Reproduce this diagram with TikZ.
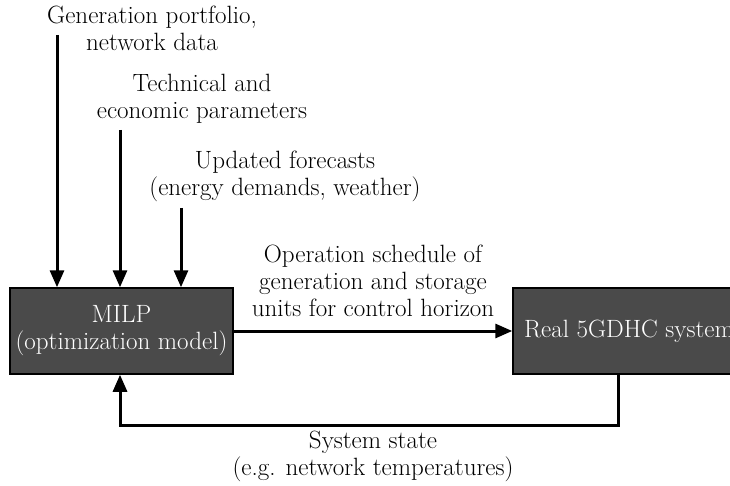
\documentclass[tikz,border=0pt]{standalone}
\usetikzlibrary{arrows.meta}
\begin{document}
\begin{tikzpicture}[x=1pt,y=-1pt,
  block/.style={draw=black,line width=1.5pt,fill=black!71,text=white,
    minimum width=223pt,minimum height=86pt,align=center,inner sep=0pt,
    font=\fontsize{25}{27}\selectfont},
  lbl/.style={align=center,inner sep=0pt,font=\fontsize{25}{27}\selectfont},
  flow/.style={line width=3pt,-{Triangle[length=17pt,width=14pt]}}]
	\useasboundingbox (0,0) rectangle (730,486);
	% boxes
	\node[block] (milp) at (121.5,331) {MILP\\(optimization model)};
	\node[block,minimum width=232pt] (real) at (629,331) {Real 5GDHC system};

	% inputs from the top
	\node[lbl] (gen) at (152,28) {Generation portfolio,\\network data};
	\node[lbl] (tech) at (202,99) {Technical and\\economic parameters};
	\node[lbl] (fcst) at (285,176) {Updated forecasts\\(energy demands, weather)};
	\coordinate (gensrc) at (57,35);
	\coordinate (techsrc) at (120,130);
	\coordinate (fcstsrc) at (181,208);
	\draw[flow] (gensrc) -- (gensrc |- milp.north);
	\draw[flow] (techsrc) -- (techsrc |- milp.north);
	\draw[flow] (fcstsrc) -- (fcstsrc |- milp.north);

	% schedule
	\draw[flow] (milp) -- (real);
	\node[lbl] (sched) at (373,281) {Operation schedule of\\generation and storage\\units for control horizon};

	% feedback
	\coordinate (fb) at (618,425);
	\draw[flow] (real.south -| fb) -- (fb) -| (milp.south -| techsrc);
	\node[lbl] (state) at (373,456) {System state\\(e.g. network temperatures)};
\end{tikzpicture}
\end{document}
